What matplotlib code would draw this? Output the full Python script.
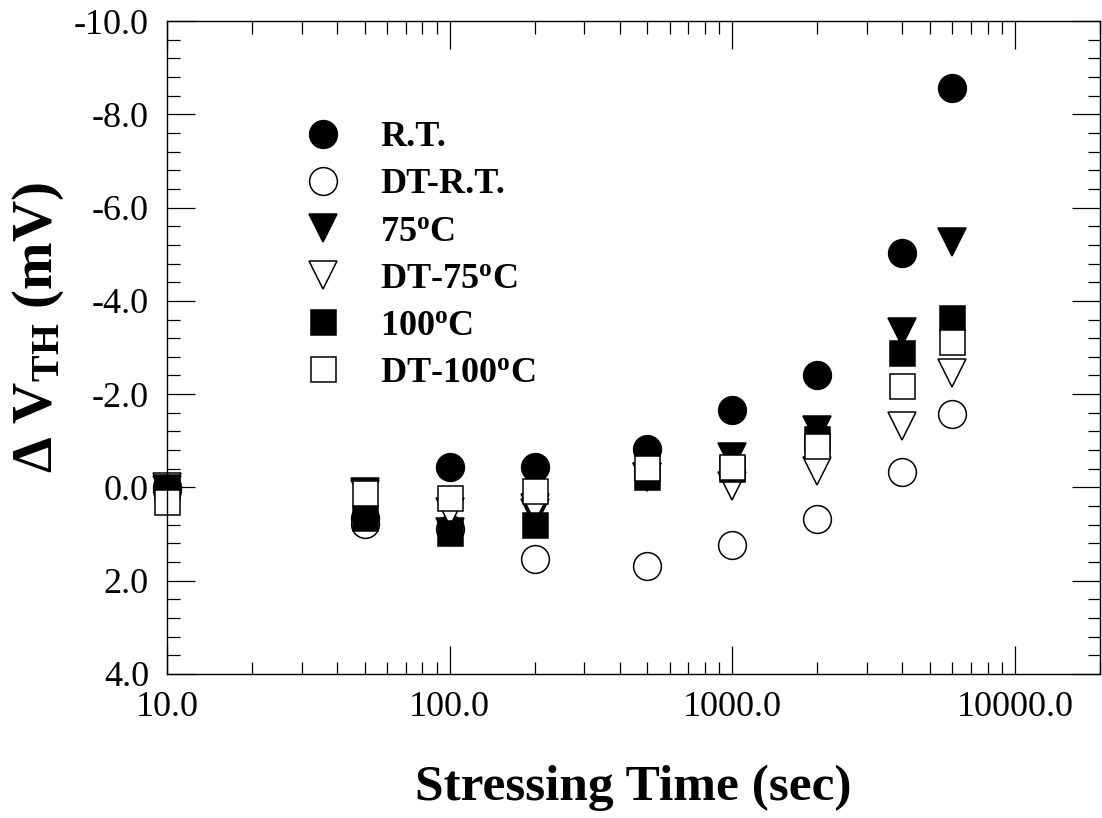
import matplotlib
matplotlib.use("Agg")
import matplotlib.pyplot as plt
from matplotlib.ticker import MultipleLocator, LogLocator, FuncFormatter, NullFormatter, FormatStrFormatter

plt.rcParams['font.family'] = ['Liberation Serif', 'DejaVu Serif']
plt.rcParams['mathtext.fontset'] = 'custom'
plt.rcParams['mathtext.rm'] = 'Liberation Serif'
plt.rcParams['mathtext.bf'] = 'Liberation Serif:bold'
plt.rcParams['mathtext.it'] = 'Liberation Serif:italic'

# ---- data ----
time_s = [10, 50, 100, 200, 500, 1000, 2000, 4000, 6000]
rt = [0.0, 0.65, -0.43, -0.43, -0.82, -1.65, -2.40, -5.03, -8.56]
dt_rt = [0.05, 0.78, 0.90, 1.53, 1.69, 1.23, 0.68, -0.34, -1.57]
t75 = [0.05, 0.10, 0.95, 0.55, -0.22, -0.65, -1.23, -3.34, -5.26]
dt_t75 = [0.0, 0.15, 0.53, 0.45, -0.22, -0.02, -0.35, -1.31, -2.46]
t100 = [0.0, 0.65, 0.97, 0.80, -0.23, -0.40, -1.03, -2.89, -3.63]
dt_t100 = [0.31, 0.13, 0.22, 0.08, -0.42, -0.43, -0.88, -2.17, -3.11]

labels = ['R.T.', 'DT-R.T.', r'75$^{\mathbf{o}}$C', r'DT-75$^{\mathbf{o}}$C',
          r'100$^{\mathbf{o}}$C', r'DT-100$^{\mathbf{o}}$C']
xticks = [10, 100, 1000, 10000]
yticks = [-10, -8, -6, -4, -2, 0, 2, 4]

W, H = 1102, 818
fig = plt.figure(figsize=(W / 100, H / 100), dpi=100)
ax = fig.add_axes([167 / W, 1 - 674 / H, (1100 - 167) / W, (674 - 21) / H])

series = [
    (rt, 'o', 'black', 20),
    (dt_rt, 'o', 'white', 20),
    (t75, 'v', 'black', 20),
    (dt_t75, 'v', 'white', 20),
    (t100, 's', 'black', 18),
    (dt_t100, 's', 'white', 18),
]
for (vals, mk, fc, ms), lab in zip(series, labels):
    ax.plot(time_s, vals, linestyle='none', marker=mk, markersize=ms,
            markerfacecolor=fc, markeredgecolor='black', markeredgewidth=1.1,
            label=lab, clip_on=False)

ax.set_xscale('log')
ax.set_xlim(10, 20000)
ax.set_ylim(4, -10)

ax.xaxis.set_major_locator(LogLocator(base=10, numticks=10))
ax.xaxis.set_minor_locator(LogLocator(base=10, subs=[2, 3, 4, 5, 6, 7, 8, 9], numticks=20))
ax.xaxis.set_major_formatter(FuncFormatter(lambda v, p: f'{v:.1f}'))
ax.xaxis.set_minor_formatter(NullFormatter())
ax.set_xticks(xticks)
ax.set_yticks(yticks)
ax.yaxis.set_major_formatter(FormatStrFormatter('%.1f'))
ax.yaxis.set_minor_locator(MultipleLocator(0.4))

ax.tick_params(which='both', direction='in', top=True, right=True, width=0.9,
               labelsize=26, colors='black')
ax.tick_params(which='major', length=20)
ax.tick_params(which='minor', length=9)
ax.tick_params(axis='y', pad=13)
ax.tick_params(axis='x', pad=12)
for sp in ax.spines.values():
    sp.set_linewidth(1.0)

ax.set_xlabel('Stressing Time (sec)', fontsize=37, fontweight='bold')
ax.xaxis.set_label_coords(0.5, -0.175)
ax.xaxis.label.set_va('center')
ax.set_ylabel(r'Δ V$_{\mathbf{TH}}$ (mV)', fontsize=41, fontweight='bold')
ax.yaxis.set_label_coords(-0.138, 0.53)
ax.yaxis.label.set_va('center')

leg = ax.legend(loc='upper left', bbox_to_anchor=(0.1475, 0.847), frameon=False,
                prop={'family': 'Liberation Serif', 'weight': 'bold', 'size': 26},
                handlelength=1.0, handletextpad=1.1, labelspacing=0.385,
                borderpad=0, borderaxespad=0, numpoints=1)

fig.savefig('out.png', dpi=100)
